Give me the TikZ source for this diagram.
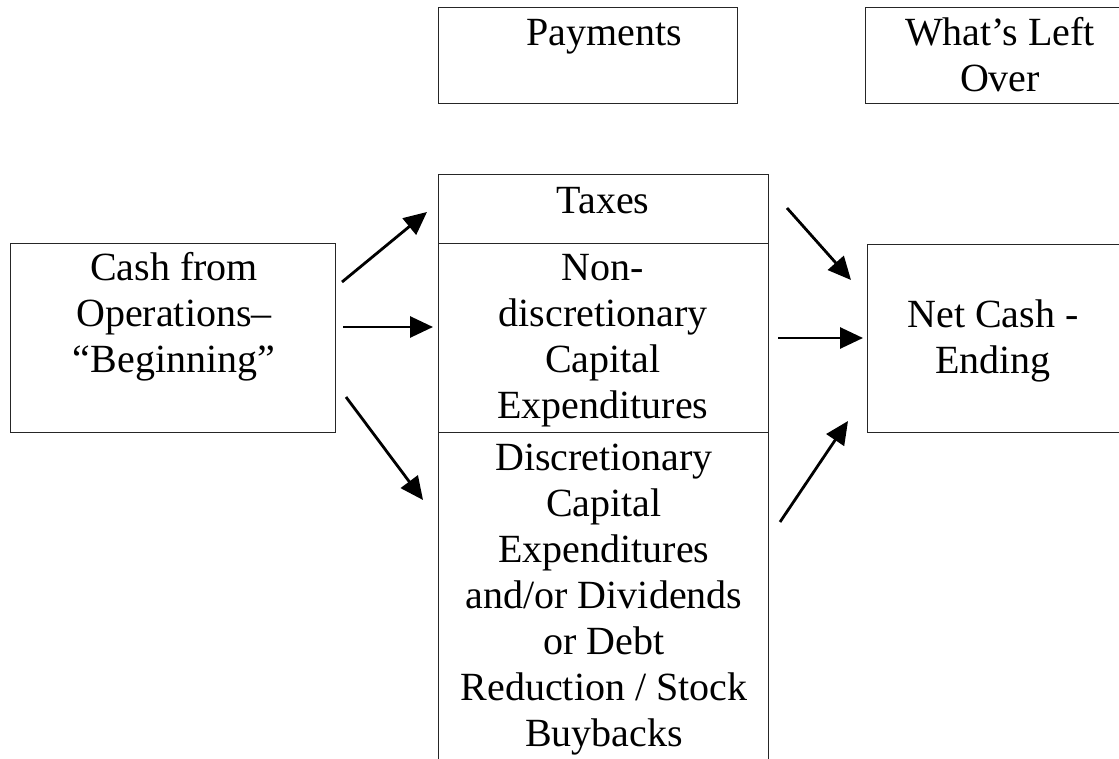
\documentclass[tikz,border=0pt]{standalone}
\usepackage{fontspec}
\setmainfont{Liberation Serif}
\usetikzlibrary{arrows.meta}
\tikzset{
  box/.style={draw=black!85, line width=1.3pt, inner sep=0pt, anchor=north west},
  txt/.style={inner sep=0pt, anchor=north, align=center, font={\fontsize{40}{46}\selectfont}},
  flow/.style={line width=2.8pt, -{Triangle[length=23pt,width=21pt]}}
}
\begin{document}
\begin{tikzpicture}[x=1pt,y=-1pt]
\useasboundingbox (0,0) rectangle (1119,759);
\clip (0,0) rectangle (1119,759);
% boxes
\node[box, minimum width=299pt, minimum height=96pt] (pay) at (438,7) {};
\node[box, minimum width=280pt, minimum height=96pt] (left) at (865,7) {};
\node[box, minimum width=325pt, minimum height=189pt] (cash) at (10,243) {};
\node[box, minimum width=330pt, minimum height=69pt] (tax) at (438,174) {};
\node[box, minimum width=330pt, minimum height=189pt] (nondisc) at (438,243) {};
\node[box, minimum width=330pt, minimum height=340pt] (disc) at (438,432) {};
\node[box, minimum width=280pt, minimum height=188pt] (net) at (867,244) {};
% texts
\node[txt] (payT) at (604,45-32.2) {\strut Payments};
\node[txt] (leftT) at (1000,45-32.2) {\strut What’s Left\\Over};
\node[txt] (cashT) at (174,280-32.2) {\strut Cash from\\Operations–\\“Beginning”};
\node[txt] (taxT) at (603,213-32.2) {\strut Taxes};
\node[txt] (nondiscT) at (603,280-32.2) {\strut Non-\\discretionary\\Capital\\Expenditures};
\node[txt] (discT) at (604,470-32.2) {\strut Discretionary\\Capital\\Expenditures\\and/or Dividends\\or Debt\\Reduction / Stock\\Buybacks};
\node[txt] (netT) at (993,327-32.2) {\strut Net Cash -\\Ending};
% arrow end points
\coordinate (a1s) at (342,282); \coordinate (a1e) at (427,212);
\coordinate (a2s) at (343,327); \coordinate (a2e) at (433,327);
\coordinate (a3s) at (346,397); \coordinate (a3e) at (423,500);
\coordinate (a4s) at (787,208); \coordinate (a4e) at (851,280);
\coordinate (a5s) at (778,338); \coordinate (a5e) at (863,338);
\coordinate (a6s) at (780,522); \coordinate (a6e) at (848,421);
\draw[flow] (a1s) -- (a1e);
\draw[flow] (a2s) -- (a2e);
\draw[flow] (a3s) -- (a3e);
\draw[flow] (a4s) -- (a4e);
\draw[flow] (a5s) -- (a5e);
\draw[flow] (a6s) -- (a6e);
\end{tikzpicture}
\end{document}
